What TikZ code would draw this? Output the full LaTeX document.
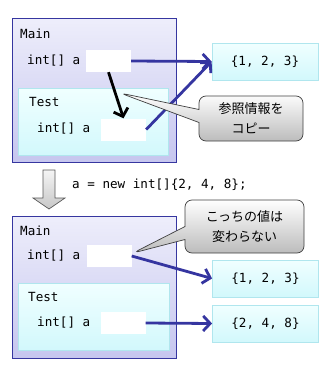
\documentclass[tikz,border=0pt]{standalone}
\usepackage{fontspec}
\setmonofont{DejaVu Sans Mono}
\newfontfamily\jpfont{Noto Sans CJK JP}
\usetikzlibrary{arrows.meta,shapes.callouts}

\definecolor{mainline}{HTML}{3636A0}
\definecolor{maintop}{HTML}{EEEEFB}
\definecolor{mainbot}{HTML}{C6C6EF}
\definecolor{testline}{HTML}{B0E6EE}
\definecolor{testtop}{HTML}{F0FFFF}
\definecolor{testbot}{HTML}{D2F8FC}
\definecolor{refblue}{HTML}{3535A0}
\definecolor{notebot}{HTML}{BCBCBC}

\tikzset{
  code/.style={font=\ttfamily\fontsize{12.6}{14}\selectfont, inner sep=0pt, anchor=west},
  frame/.style={draw=mainline, line width=1pt, top color=maintop, bottom color=mainbot,
    minimum width=164pt, inner sep=0pt},
  subframe/.style={draw=testline, line width=0.8pt, top color=testtop, bottom color=testbot,
    minimum width=150pt, minimum height=67pt, inner sep=0pt},
  slot/.style={fill=white, minimum width=45pt, minimum height=22pt, inner sep=0pt},
  arraybox/.style={draw=testline, line width=0.8pt, top color=testtop, bottom color=testbot,
    minimum width=106pt, minimum height=37pt, inner sep=0pt,
    font=\ttfamily\fontsize{12.6}{14}\selectfont},
  note/.style={rectangle callout, rounded corners=7pt, draw=black!75, line width=0.7pt,
    top color=white, bottom color=notebot, align=center, inner sep=0pt,
    callout pointer width=13pt, font=\jpfont\fontsize{13}{20}\selectfont},
  ref/.style={draw=refblue, line width=2.8pt, -{Straight Barb[length=7pt,width=15pt]}},
  copyref/.style={draw=black, line width=2.8pt, -{Straight Barb[length=7pt,width=15pt]}}
}

\begin{document}
\begin{tikzpicture}[x=1pt,y=-1pt]
    \useasboundingbox (0,0) rectangle (330,370);

    % Before: frames
    \node[frame, minimum height=144pt] (main1) at (94,90) {};
    \node[subframe] (test1) at (93.5,121.5) {};
    \node[code] (mainlbl1) at (20,34) {Main};
    \node[code] (mainvar1) at (27,61) {int[] a};
    \node[slot] (ma) at (108.5,61) {};
    \node[code] (testlbl1) at (29,102) {Test};
    \node[code] (testvar1) at (37,129) {int[] a};
    \node[slot] (ta) at (123.5,129.5) {};

    % Before: array and references
    \node[arraybox] (arr1) at (265,61.5) {\{1, 2, 3\}};
    \draw[ref] (ma.east) -- (arr1.west);
    \draw[ref] (ta.east) -- (arr1.west);
    \draw[copyref] (ma.south) -- (ta.north);
    \coordinate (tip1) at (120,93);
    \node[note, minimum width=104pt, minimum height=45pt, callout absolute pointer={(tip1)}]
        (note1) at (251,118.5) {参照情報を\\コピー};

    % Step arrow
    \path[draw=black!65, line width=0.7pt, top color=black!4, bottom color=black!22]
        (43,170) -- (55,170) -- (55,198) -- (65,198) -- (49,209) -- (33,198) -- (43,198) -- cycle;
    \node[code] (stmt) at (72,185) {a = new int[]\{2, 4, 8\};};

    % After: frames
    \node[frame, minimum height=142pt] (main2) at (94,287) {};
    \node[subframe, minimum width=151pt] (test2) at (93.5,316.5) {};
    \node[code] (mainlbl2) at (20,231) {Main};
    \node[code] (mainvar2) at (27,256) {int[] a};
    \node[slot] (mb) at (109,256) {};
    \node[code] (testlbl2) at (28,297) {Test};
    \node[code] (testvar2) at (37,323) {int[] a};
    \node[slot] (tb) at (123,323) {};

    % After: arrays and references
    \node[arraybox] (arr2) at (265.5,278.5) {\{1, 2, 3\}};
    \node[arraybox] (arr3) at (265.5,323.5) {\{2, 4, 8\}};
    \draw[ref] (mb.east) -- (arr2.west);
    \draw[ref] (tb.east) -- (arr3.west);
    \coordinate (tip2) at (133,253);
    \node[note, minimum width=119pt, minimum height=53pt, callout absolute pointer={(tip2)}]
        (note2) at (244.5,226.5) {こっちの値は\\変わらない};

\end{tikzpicture}
\end{document}
